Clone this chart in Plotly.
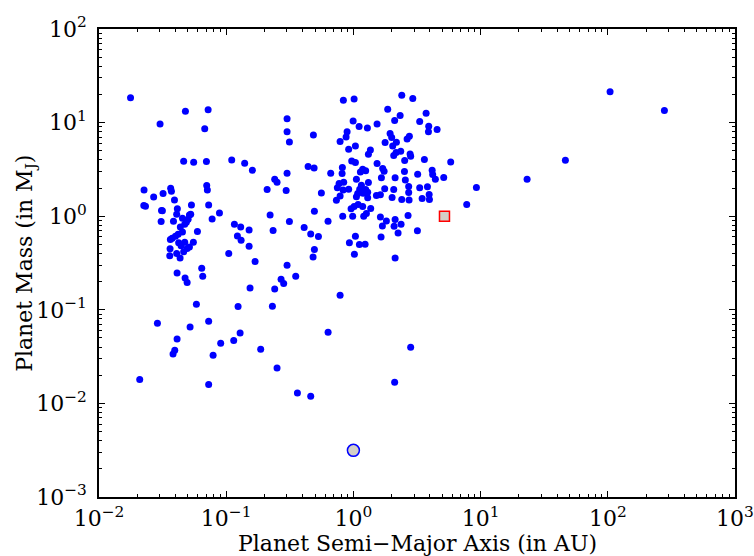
import plotly.graph_objects as go

# Known exoplanets: semi-major axis (AU) and mass (Jupiter masses)
semi_major_au = [
    0.0177, 0.0302, 0.0478, 0.0721, 0.0678, 0.301, 0.301, 0.314, 0.0463, 0.0555,
    0.0699, 0.1105, 0.1397, 0.1607, 0.301, 0.2406, 0.251, 0.2098, 0.296, 0.0226,
    0.0269, 0.0319, 0.0366, 0.0371, 0.0703, 0.0711, 0.0392, 0.0225, 0.0232, 0.0310,
    0.0315, 0.0413, 0.0533, 0.0728, 0.0885, 0.0775, 0.0408, 0.0308, 0.0385, 0.0453,
    0.0514, 0.0526, 0.0486, 0.0472, 0.0436, 0.0502, 0.0453, 0.0594, 0.0419, 0.0399,
    0.0376, 0.0364, 0.0552, 0.0423, 0.0472, 0.0442, 0.0514, 0.0493, 0.0463, 0.0362,
    0.0360, 0.0408, 0.0434, 0.1047, 0.1160, 0.130, 0.1514, 0.1225, 0.131, 0.1514,
    0.1687, 0.2214, 0.2337, 0.314, 0.301, 0.0642, 0.0654, 0.0411, 0.0475, 0.270,
    0.482, 0.4935, 1.018, 0.0493, 0.352, 0.283, 0.2406, 0.154, 0.786, 0.0583,
    0.124, 0.2308, 0.0288, 0.0520, 0.0728, 0.1286, 0.6324, 0.0411, 0.1146, 0.0905,
    0.0394, 0.0382, 0.0789, 0.1867, 0.251, 0.0209, 0.0728, 0.363, 0.4617, 0.930,
    1.115, 1.236, 2.128, 2.82, 2.11, 0.834, 1.013, 2.40, 2.93, 1.861,
    2.33, 2.11, 3.73, 3.32, 3.91, 3.89, 4.55, 0.995, 1.109, 1.288,
    1.535, 0.4847, 0.892, 0.876, 0.786, 1.943, 2.00, 2.755, 2.644, 1.775,
    2.178, 2.037, 1.037, 0.918, 1.36, 1.312, 2.167, 2.355, 2.79, 2.82,
    2.075, 2.53, 3.615, 5.82, 0.970, 1.037, 1.535, 0.4405, 0.491, 0.819,
    0.663, 0.815, 1.183, 1.249, 1.135, 1.70, 1.743, 1.66, 2.52, 3.20,
    4.16, 4.20, 4.41, 5.13, 9.27, 2.128, 2.56, 1.056, 1.312, 1.156,
    0.839, 0.772, 0.748, 0.918, 1.121, 1.249, 1.295, 1.192, 1.081, 0.830,
    1.762, 2.075, 2.72, 3.32, 3.82, 2.72, 0.560, 0.786, 0.735, 1.056,
    1.295, 1.517, 1.63, 2.015, 2.40, 2.74, 3.47, 3.94, 3.96, 7.78,
    1.089, 1.013, 0.959, 1.183, 1.368, 0.4935, 0.824, 0.987, 1.205, 1.265,
    1.63, 2.69, 0.632, 1.817, 2.128, 1.69, 2.09, 2.37, 2.245, 3.185,
    0.410, 0.4617, 0.531, 1.037, 1.65, 104.2, 278.6, 46.4, 23.2,
]
mass_mj = [
    18.4, 9.69, 13.2, 13.7, 8.57, 10.96, 7.96, 6.22, 3.87, 3.78,
    3.84, 3.99, 3.68, 3.10, 2.88, 2.48, 2.31, 1.93, 1.88, 1.91,
    1.60, 1.75, 1.99, 1.85, 2.13, 1.90, 1.49, 1.30, 1.28, 1.15,
    1.14, 1.20, 1.32, 1.32, 1.08, 0.936, 1.05, 0.878, 0.884, 0.952,
    1.03, 1.05, 0.863, 0.821, 0.769, 0.929, 0.680, 0.687, 0.642, 0.611,
    0.582, 0.564, 0.528, 0.519, 0.528, 0.482, 0.470, 0.452, 0.416, 0.448,
    0.377, 0.399, 0.358, 0.399, 0.821, 0.769, 0.714, 0.616, 0.554, 0.478,
    0.328, 1.03, 0.703, 0.878, 0.2996, 0.278, 0.2286, 0.248, 0.219, 0.2123,
    0.367, 0.4406, 0.3926, 0.1958, 0.2286, 0.191, 0.167, 0.1714, 0.1432, 0.1148,
    0.1084, 0.1093, 0.0719, 0.0657, 0.0755, 0.0566, 0.0576, 0.0489, 0.0470, 0.0440,
    0.0370, 0.0338, 0.0327, 0.0379, 0.0239, 0.0180, 0.0159, 0.01295, 0.01194, 0.519,
    0.499, 0.502, 0.358, 0.0398, 0.01684, 17.35, 17.9, 19.6, 18.1, 13.9,
    11.9, 10.5, 12.6, 10.3, 9.15, 7.96, 8.44, 10.4, 9.08, 8.78,
    9.69, 7.39, 7.96, 7.03, 6.28, 7.65, 6.93, 7.16, 6.70, 6.13,
    6.17, 5.64, 5.64, 5.20, 5.11, 4.60, 4.79, 4.95, 4.63, 4.38,
    4.45, 3.94, 4.03, 3.80, 3.90, 3.75, 3.66, 3.40, 3.28, 3.31,
    2.88, 2.86, 3.18, 3.05, 2.97, 3.23, 3.03, 2.57, 3.00, 2.81,
    3.10, 2.79, 2.48, 2.59, 2.03, 2.57, 2.43, 2.48, 2.29, 2.14,
    2.31, 2.24, 2.01, 1.94, 1.94, 1.93, 1.80, 1.76, 1.75, 1.91,
    1.96, 1.93, 2.08, 2.01, 2.06, 1.79, 1.77, 1.64, 1.48, 1.61,
    1.57, 1.66, 1.69, 1.58, 1.51, 1.49, 1.55, 1.71, 1.51, 1.33,
    1.33, 1.27, 1.20, 1.27, 1.21, 1.13, 1.00, 1.00, 1.00, 1.07,
    0.983, 1.02, 0.884, 0.891, 0.922, 0.788, 0.782, 0.821, 0.663, 0.697,
    0.757, 0.647, 0.607, 0.611, 0.601, 21.3, 13.5, 3.97, 2.48,
]

# Solar-system reference planets
jupiter_au, jupiter_mj = [5.2], [1.0]
earth_au, earth_mj = [1.0], [0.00315]

x_decades = [1e-2, 1e-1, 1e0, 1e1, 1e2, 1e3]
x_ticklabels = ["10<sup>−2</sup>", "10<sup>−1</sup>", "10<sup>0</sup>",
                "10<sup>1</sup>", "10<sup>2</sup>", "10<sup>3</sup>"]
y_decades = [1e-3, 1e-2, 1e-1, 1e0, 1e1, 1e2]
y_ticklabels = ["10<sup>−3</sup>", "10<sup>−2</sup>", "10<sup>−1</sup>",
                "10<sup>0</sup>", "10<sup>1</sup>", "10<sup>2</sup>"]

x_title = "Planet Semi−Major Axis (in AU)"
y_title = "Planet Mass (in M<sub>J</sub>)"


def minor_ticks(decades):
    vals = []
    for d in decades[:-1]:
        vals.extend(k * d for k in range(2, 10))
    return vals


font_family = "DejaVu Serif"
label_font = dict(family=font_family, size=22, color="black")

fig = go.Figure()
fig.add_trace(go.Scatter(
    x=semi_major_au, y=mass_mj, mode="markers",
    marker=dict(color="#0000ff", size=7, line=dict(width=0)),
    showlegend=False,
))
fig.add_trace(go.Scatter(
    x=jupiter_au, y=jupiter_mj, mode="markers",
    marker=dict(symbol="square", color="#d4d0c8", size=10,
                line=dict(color="#ff0000", width=1.5)),
    showlegend=False,
))
fig.add_trace(go.Scatter(
    x=earth_au, y=earth_mj, mode="markers",
    marker=dict(symbol="circle", color="#d4d0c8", size=12,
                line=dict(color="#0000ff", width=1.5)),
    showlegend=False,
))

axis_common = dict(
    type="log", showgrid=False, zeroline=False, automargin=False,
    showline=True, linecolor="black", linewidth=1.5, mirror="allticks",
    ticks="inside", ticklen=6, tickwidth=1, tickcolor="black",
    tickmode="array", tickfont=label_font,
)

fig.update_xaxes(
    **axis_common,
    range=[-2, 3],
    tickvals=x_decades, ticktext=x_ticklabels,
    minor=dict(tickmode="array", tickvals=minor_ticks(x_decades),
               ticks="inside", ticklen=3, tickcolor="black", tickwidth=1),
    ticklabelstandoff=1,
)
fig.update_yaxes(
    **axis_common,
    range=[-3, 2],
    tickvals=y_decades, ticktext=y_ticklabels,
    minor=dict(tickmode="array", tickvals=minor_ticks(y_decades),
               ticks="inside", ticklen=3, tickcolor="black", tickwidth=1),
    ticklabelstandoff=6,
)

# Axis titles placed as paper-anchored annotations
fig.add_annotation(
    text=x_title, xref="paper", yref="paper", x=0.5, y=-0.099,
    xanchor="center", yanchor="middle", showarrow=False, font=label_font,
)
fig.add_annotation(
    text=y_title, xref="paper", yref="paper", x=-0.115, y=0.5,
    xanchor="center", yanchor="middle", textangle=-90, showarrow=False,
    font=label_font,
)

fig.update_layout(
    width=754, height=556,
    margin=dict(l=99, r=19, t=29, b=59),
    paper_bgcolor="white", plot_bgcolor="white",
)

fig.write_html("out.html")
